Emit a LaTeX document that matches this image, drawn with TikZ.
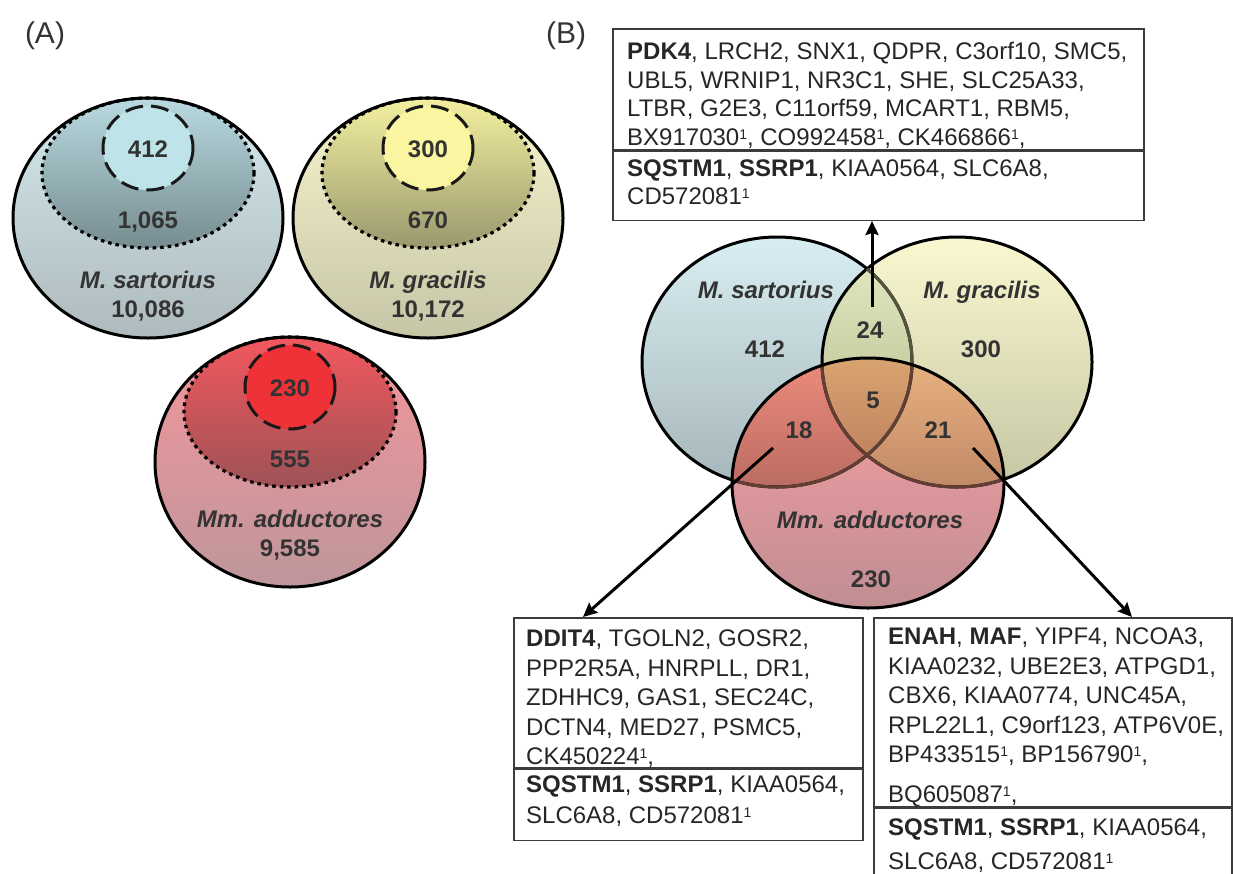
\documentclass[tikz,border=0pt]{standalone}
\usepackage{fontspec}
\setmainfont{Liberation Sans}
\usetikzlibrary{arrows.meta}
\definecolor{ctext}{RGB}{51,51,51}
\definecolor{cgene}{RGB}{38,38,38}
\definecolor{cbox}{RGB}{60,60,60}
% panel A
\definecolor{sarTop}{RGB}{212,233,237}
\definecolor{sarBot}{RGB}{174,186,190}
\definecolor{sarInTop}{RGB}{184,218,224}
\definecolor{sarInBot}{RGB}{118,140,144}
\definecolor{sarCore}{RGB}{190,228,233}
\definecolor{graTop}{RGB}{247,245,205}
\definecolor{graBot}{RGB}{198,197,166}
\definecolor{graInTop}{RGB}{243,240,160}
\definecolor{graInBot}{RGB}{154,152,110}
\definecolor{graCore}{RGB}{249,245,160}
\definecolor{addTop}{RGB}{244,150,156}
\definecolor{addBot}{RGB}{190,150,154}
\definecolor{addInTop}{RGB}{242,88,94}
\definecolor{addInBot}{RGB}{158,82,86}
\definecolor{addCore}{RGB}{238,50,56}
% panel B
\definecolor{vsarTop}{RGB}{216,238,242}
\definecolor{vsarBot}{RGB}{166,182,186}
\definecolor{vgraTop}{RGB}{250,248,208}
\definecolor{vgraBot}{RGB}{198,198,164}
\definecolor{vaddTop}{RGB}{250,160,165}
\definecolor{vaddBot}{RGB}{192,142,146}
\definecolor{v24Top}{RGB}{228,235,196}
\definecolor{v24Bot}{RGB}{178,182,134}
\definecolor{v18Top}{RGB}{236,140,123}
\definecolor{v18Bot}{RGB}{142,78,76}
\definecolor{v21Top}{RGB}{233,178,128}
\definecolor{v21Bot}{RGB}{155,100,81}
\definecolor{v5Top}{RGB}{216,164,112}
\definecolor{v5Bot}{RGB}{154,81,71}
\definecolor{edgeOl}{RGB}{85,85,62}
\definecolor{edgeBr}{RGB}{98,62,52}

\newcommand{\estone}{\raisebox{6pt}{\fontsize{14}{14}\selectfont 1}}

\tikzset{
  num/.style={anchor=base, text=ctext, font=\fontsize{24}{28}\selectfont\bfseries},
  musc/.style={anchor=base, text=ctext, font=\fontsize{24}{28}\selectfont\bfseries\itshape},
  genes/.style={anchor=north west, inner sep=0pt, align=left, text=cgene,
    font=\fontsize{24}{29.5}\selectfont},
  genebox/.style={anchor=north west, draw=cbox, line width=1.5pt, inner sep=0pt},
  rim/.style={draw=black, line width=3pt},
  dotline/.style={draw=black, line width=3.2pt, dash pattern=on 3.5pt off 4pt},
  dashline/.style={draw=black!90, line width=3pt, dash pattern=on 18pt off 8pt},
  arr/.style={line width=3pt, -{Stealth[length=14pt,width=13pt,inset=2pt]}},
}
\def\sarpath{(777,362) ellipse [x radius=135, y radius=125]}
\def\grapath{(957,362) ellipse [x radius=135, y radius=125]}
\def\addpath{(868,483) ellipse [x radius=136, y radius=125]}

\begin{document}
\begin{tikzpicture}[x=1pt,y=-1pt]
\useasboundingbox (0,0) rectangle (1233,873);

% (A) nested sets per muscle
\node[anchor=base, text=ctext, font=\fontsize{30}{36}\selectfont] (labA) at (45,43) {(A)};
\foreach \mus/\cx/\cy/\ry/\ly/\core/\inner/\name/\total in
  {sar/148/218/120/218/412/{1,065}/{M. sartorius}/{10,086},
   gra/428/218/120/218/300/670/{M. gracilis}/{10,172},
   add/290/462/125/457/230/555/{Mm. adductores}/{9,585}}
{
  \colorlet{ctop}{\mus Top}\colorlet{cbot}{\mus Bot}
  \colorlet{cintop}{\mus InTop}\colorlet{cinbot}{\mus InBot}
  \colorlet{ccore}{\mus Core}
  \shade[top color=ctop, bottom color=cbot] (\cx,\cy) ellipse [x radius=135, y radius=\ry];
  \shade[top color=cintop, bottom color=cinbot, dotline] (\cx,{\cy-\ry+75}) ellipse [x radius=106, y radius=75];
  \filldraw[fill=ccore, dashline] (\cx,{\cy-\ry+50}) ellipse [x radius=45, y radius=42];
  \draw[rim] (\cx,\cy) ellipse [x radius=135, y radius=\ry];
  \node[num] (core\mus) at (\cx,{\ly-61}) {\core};
  \node[num] (inner\mus) at (\cx,{\ly+10}) {\inner};
  \node[musc] (name\mus) at (\cx,{\ly+70}) {\name};
  \node[num] (total\mus) at (\cx,{\ly+99}) {\total};
}

% (B) Venn diagram
\node[anchor=base, text=ctext, font=\fontsize{30}{36}\selectfont] (labB) at (566,43) {(B)};
\shade[top color=vsarTop, bottom color=vsarBot] \sarpath;
\shade[top color=vgraTop, bottom color=vgraBot] \grapath;
\begin{scope}
  \clip \sarpath;
  \shade[top color=v24Top, bottom color=v24Bot] \grapath;
\end{scope}
\shade[top color=vaddTop, bottom color=vaddBot] \addpath;
\begin{scope}
  \clip \addpath;
  \begin{scope}
    \clip \sarpath;
    \shade[top color=v18Top, bottom color=v18Bot] \addpath;
  \end{scope}
  \begin{scope}
    \clip \grapath;
    \shade[top color=v21Top, bottom color=v21Bot] \addpath;
    \clip \sarpath;
    \shade[top color=v5Top, bottom color=v5Bot] \addpath;
  \end{scope}
\end{scope}
% outlines, the hidden parts lighter
\draw[rim] \sarpath;
\draw[rim] \grapath;
\begin{scope}
  \clip \grapath;
  \draw[rim, draw=edgeOl] \sarpath;
\end{scope}
\begin{scope}
  \clip \addpath;
  \draw[rim, draw=edgeBr] \sarpath;
  \draw[rim, draw=edgeBr] \grapath;
\end{scope}
\draw[rim] \addpath;

\node[musc] (vsar) at (766,298) {M. sartorius};
\node[musc] (vgra) at (982,298) {M. gracilis};
\node[musc] (vadd) at (870,528) {Mm. adductores};
\node[num] (v412) at (765,357) {412};
\node[num] (v300) at (981,357) {300};
\node[num] (v230) at (871,587) {230};
\node[num] (v24) at (870,338) {24};
\node[num] (v5) at (873,408) {5};
\node[num] (v18) at (799,438) {18};
\node[num] (v21) at (938,438) {21};

% gene lists
\node[genebox, minimum width=531pt, minimum height=121pt] (box24a) at (612,28) {};
\node[genebox, minimum width=531pt, minimum height=69pt] (box24b) at (box24a.south west) {};
\node[genes, font=\fontsize{24}{28.7}\selectfont] (g24a) at (627,42)
  {\textbf{PDK4}, LRCH2, SNX1, QDPR, C3orf10, SMC5,\\
   UBL5, WRNIP1, NR3C1, SHE, SLC25A33,\\
   LTBR, G2E3, C11orf59, MCART1, RBM5,\\
   BX917030\estone, CO992458\estone, CK466866\estone,};
\node[genes, font=\fontsize{24}{28}\selectfont] (g24b) at (627,160)
  {\textbf{SQSTM1}, \textbf{SSRP1}, KIAA0564, SLC6A8,\\
   CD572081\estone};

\node[genebox, minimum width=349pt, minimum height=150pt] (box18a) at (513,617) {};
\node[genebox, minimum width=349pt, minimum height=71pt] (box18b) at (box18a.south west) {};
\node[genes] (g18a) at (526,630)
  {\textbf{DDIT4}, TGOLN2, GOSR2,\\
   PPP2R5A, HNRPLL, DR1,\\
   ZDHHC9, GAS1, SEC24C,\\
   DCTN4, MED27, PSMC5,\\
   CK450224\estone,};
\node[genes, font=\fontsize{24}{31}\selectfont] (g18b) at (526,776)
  {\textbf{SQSTM1}, \textbf{SSRP1}, KIAA0564,\\
   SLC6A8, CD572081\estone};

\node[genebox, minimum width=358pt, minimum height=189pt] (box21a) at (873,617) {};
\node[genebox, minimum width=358pt, minimum height=100pt] (box21b) at (box21a.south west) {};
\node[genes] (g21a) at (888,628)
  {\textbf{ENAH}, \textbf{MAF}, YIPF4, NCOA3,\\
   KIAA0232, UBE2E3, ATPGD1,\\
   CBX6, KIAA0774, UNC45A,\\
   RPL22L1, C9orf123, ATP6V0E,\\
   BP433515\estone, BP156790\estone,\\[10.5pt]
   BQ605087\estone,};
\node[genes, font=\fontsize{24}{34}\selectfont] (g21b) at (888,819)
  {\textbf{SQSTM1}, \textbf{SSRP1}, KIAA0564,\\
   SLC6A8, CD572081\estone};

% arrows from the overlaps
\coordinate (s24) at (872,307);
\coordinate (s18) at (773,448);
\coordinate (s21) at (973,448);
\draw[arr] (s24) -- (s24 |- box24b.south);
\draw[arr] (s18) -- ([xshift=70pt]box18a.north west);
\draw[arr] (s21) -- ([xshift=259pt]box21a.north west);
\end{tikzpicture}
\end{document}
